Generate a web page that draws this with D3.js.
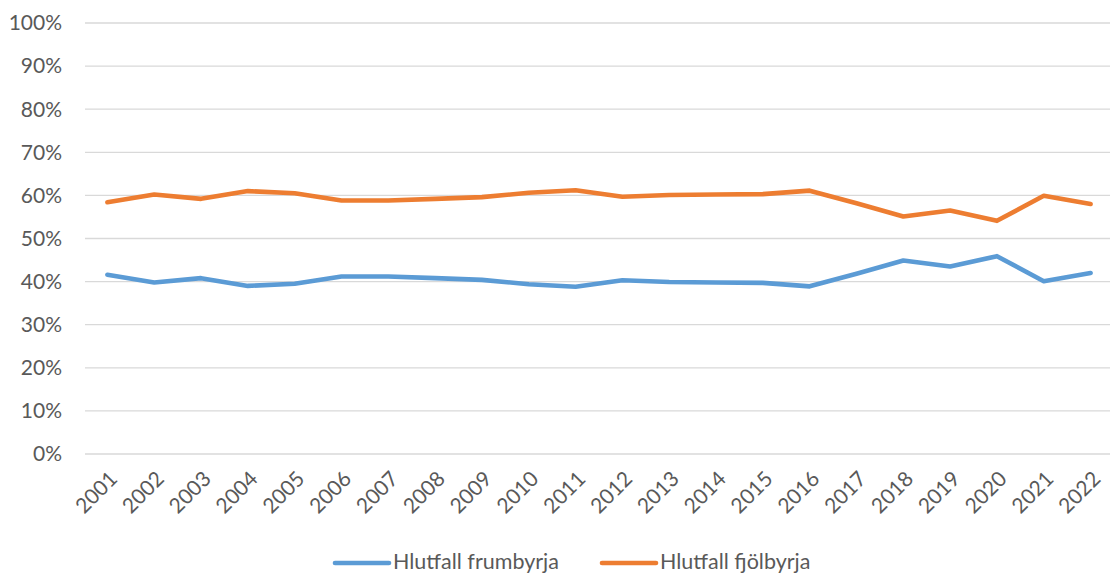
<!DOCTYPE html>
<html><head><meta charset="utf-8">
<script src="https://cdn.jsdelivr.net/npm/d3@7"></script>
<style>body{margin:0;background:#fff}svg{display:block}text{font-family:Lato,"Noto Sans",sans-serif;fill:#595959}</style>
</head><body>
<svg id="c" width="1110" height="575"></svg>
<script>
const years = ["2001","2002","2003","2004","2005","2006","2007","2008","2009","2010","2011","2012","2013","2014","2015","2016","2017","2018","2019","2020","2021","2022"];
const frumbyrja = [41.6,39.8,40.8,39.0,39.5,41.2,41.2,40.8,40.4,39.4,38.8,40.3,39.9,39.8,39.7,38.9,41.8,44.9,43.5,45.9,40.1,42.0];
const fjolbyrja = [58.4,60.2,59.2,61.0,60.5,58.8,58.8,59.2,59.6,60.6,61.2,59.7,60.1,60.2,60.3,61.1,58.2,55.1,56.5,54.1,59.9,58.0];
const yTicks = [0,10,20,30,40,50,60,70,80,90,100];
const seriesNames = ["Hlutfall frumbyrja","Hlutfall fjölbyrja"];
const colors = ["#5B9BD5","#ED7D31"];

const svg = d3.select("#c");
const x = d3.scaleBand().domain(years).range([84,1114]);
const y = d3.scaleLinear().domain([0,100]).range([454,23]);

svg.append("g").selectAll("line").data(yTicks).join("line")
  .attr("x1",85).attr("x2",1110).attr("y1",d=>y(d)).attr("y2",d=>y(d))
  .attr("stroke","#d9d9d9").attr("stroke-width",1.3);

svg.append("g").selectAll("text").data(yTicks).join("text")
  .attr("x",62).attr("y",d=>y(d)).attr("dy","0.35em").attr("text-anchor","end")
  .attr("font-size",21).text(d=>d+"%");

svg.append("g").selectAll("text").data(years).join("text")
  .attr("transform",d=>`translate(${x(d)+x.bandwidth()/2+6},${475}) rotate(-45)`)
  .attr("text-anchor","end").attr("dy","0.35em").attr("font-size",21).text(d=>d);

const line = d3.line().x((d,i)=>x(years[i])+x.bandwidth()/2).y(d=>y(d));
[frumbyrja,fjolbyrja].forEach((s,i)=>{
  svg.append("path").datum(s).attr("d",line).attr("fill","none")
    .attr("stroke",colors[i]).attr("stroke-width",4.6).attr("stroke-linejoin","round").attr("stroke-linecap","round");
});

const lg = [{x:335},{x:602}];
seriesNames.forEach((n,i)=>{
  svg.append("line").attr("x1",lg[i].x).attr("x2",lg[i].x+54).attr("y1",563).attr("y2",563)
    .attr("stroke",colors[i]).attr("stroke-width",4.6).attr("stroke-linecap","round");
  svg.append("text").attr("x",lg[i].x+58).attr("y",561).attr("dy","0.35em").attr("font-size",21.5).text(n);
});
</script>
</body></html>
